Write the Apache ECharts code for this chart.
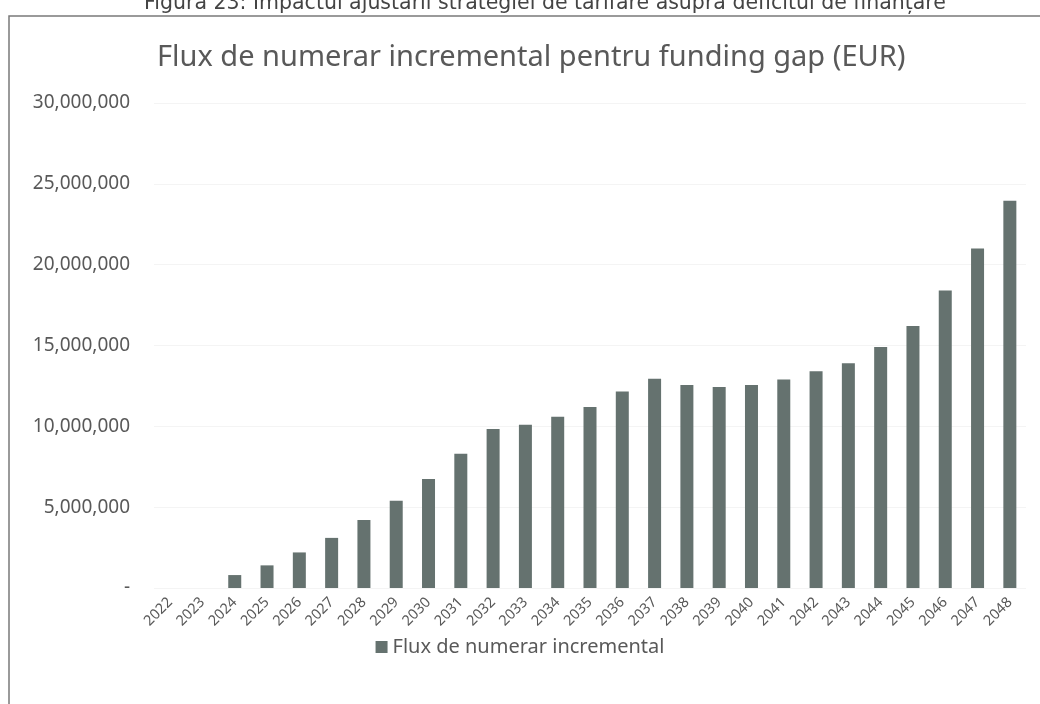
<!DOCTYPE html>
<html>
<head>
<meta charset="utf-8">
<style>
  html, body { margin: 0; padding: 0; background: #fff; }
  #chart { width: 1040px; height: 704px; }
</style>
<script src="https://cdn.jsdelivr.net/npm/echarts@6/dist/echarts.min.js"></script>
</head>
<body>
<div id="chart"></div>
<script>
var years = ['2022', '2023', '2024', '2025', '2026', '2027', '2028', '2029', '2030',
  '2031', '2032', '2033', '2034', '2035', '2036', '2037', '2038', '2039', '2040',
  '2041', '2042', '2043', '2044', '2045', '2046', '2047', '2048'];
var fluxValues = [0, 0, 800000, 1400000, 2200000, 3100000, 4200000, 5400000, 6750000,
  8300000, 9830000, 10100000, 10600000, 11200000, 12150000, 12950000, 12550000, 12430000, 12550000,
  12900000, 13400000, 13900000, 14900000, 16200000, 18400000, 21000000, 23950000];
var seriesName = 'Flux de numerar incremental';
var chartTitle = 'Flux de numerar incremental pentru funding gap (EUR)';
var caption = 'Figura 23: Impactul ajustării strategiei de tarifare asupra deficitul de finanțare';

(function() {
  var ink = '#595959';
  var barColor = '#65726f';

  var chart = echarts.init(document.getElementById('chart'), null, { renderer: 'canvas' });
  chart.setOption({
    animation: false,
    backgroundColor: '#fff',
    textStyle: { fontFamily: 'Noto Sans' },
    graphic: [
      {
        type: 'text', left: 144, top: -7,
        style: { text: caption, fontFamily: 'DejaVu Sans', fontSize: 20.5, fill: '#444' }
      },
      {
        type: 'rect', shape: { x: 9, y: 16, width: 1100, height: 760 },
        style: { fill: 'none', stroke: '#7a7a7a', lineWidth: 1.5 }
      }
    ],
    title: {
      text: chartTitle,
      left: 152,
      top: 38,
      textStyle: { color: ink, fontSize: 29, fontWeight: 'normal', fontFamily: 'Noto Sans' }
    },
    legend: {
      data: [seriesName],
      bottom: 42,
      left: 'center',
      icon: 'rect',
      itemWidth: 12,
      itemHeight: 12,
      itemGap: 6,
      textStyle: { color: ink, fontSize: 20 }
    },
    grid: { left: 154, right: 14, top: 103, bottom: 116 },
    xAxis: {
      type: 'category',
      data: years,
      axisLine: { show: false },
      axisTick: { show: false },
      axisLabel: { color: ink, fontSize: 14.5, rotate: 45, interval: 0, margin: 12 }
    },
    yAxis: {
      type: 'value',
      min: 0,
      max: 30000000,
      interval: 5000000,
      axisLine: { show: false },
      axisTick: { show: false },
      splitLine: { lineStyle: { color: '#f4f4f4', width: 1 } },
      axisLabel: {
        color: ink,
        fontSize: 19,
        margin: 24,
        formatter: function(v) { return v === 0 ? '-' : v.toLocaleString('en-US'); }
      }
    },
    series: [{
      name: seriesName,
      type: 'bar',
      data: fluxValues,
      barWidth: 13,
      itemStyle: { color: barColor }
    }]
  });
  window.addEventListener('resize', function() { chart.resize(); });
})();
</script>
</body>
</html>
